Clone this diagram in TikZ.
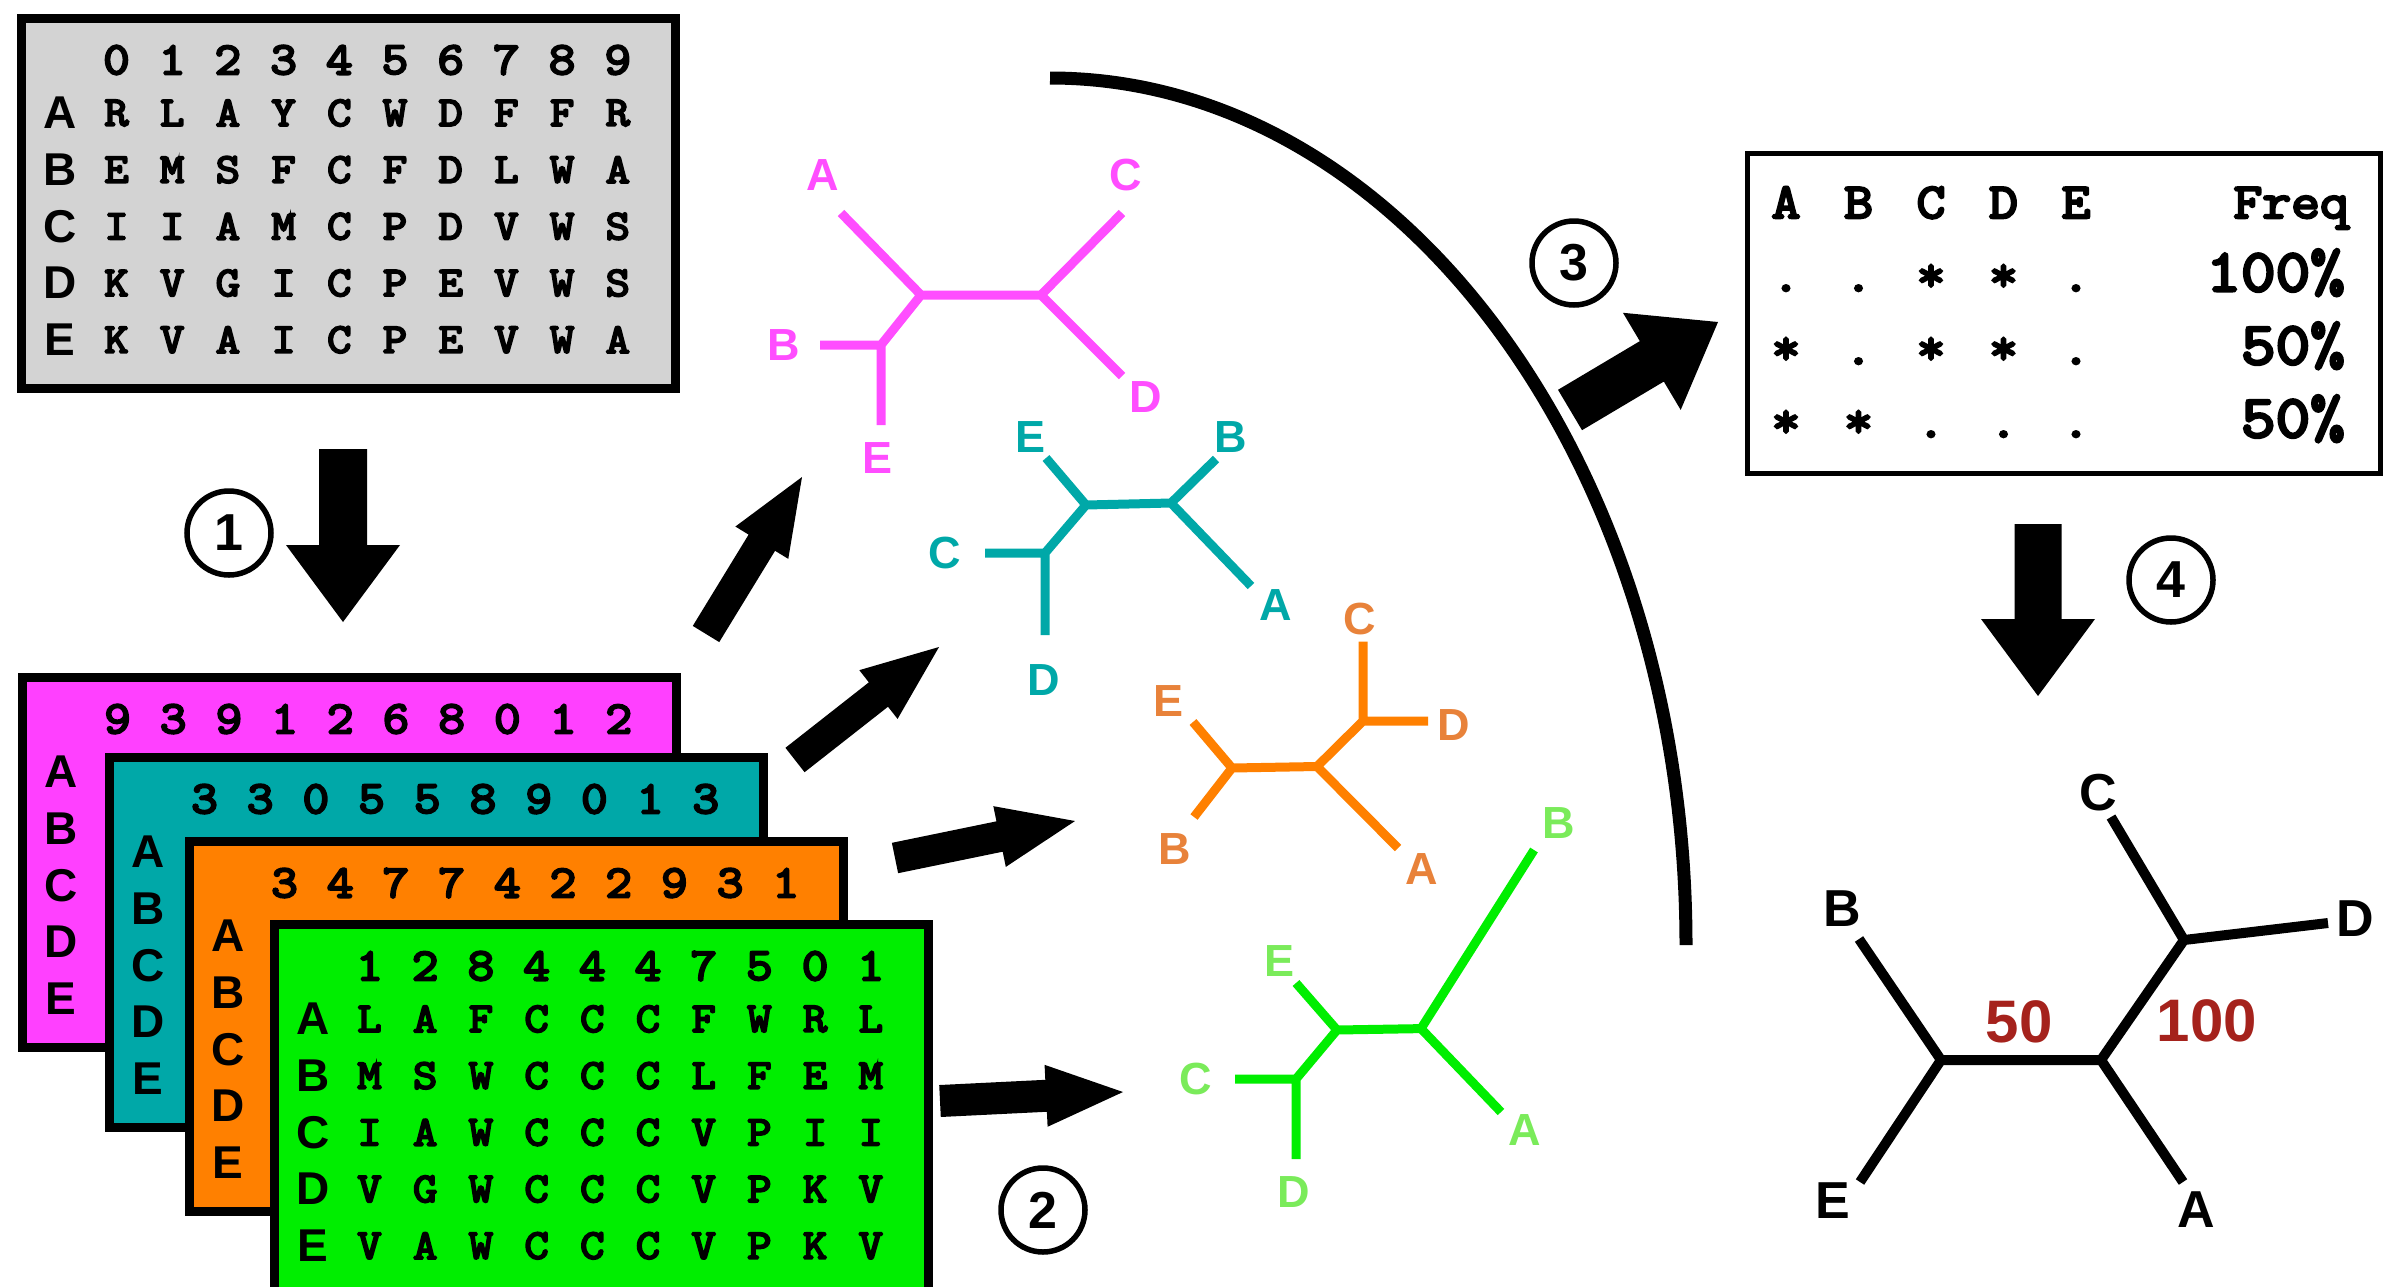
\documentclass[tikz,border=0pt]{standalone}
\usepackage{fontspec}
\newfontfamily\labelsans{Liberation Sans}
\newfontfamily\seqmono{Latin Modern Mono}[FakeBold=5, FakeStretch=1.12]

\definecolor{seqgray}{RGB}{211,211,211}
\definecolor{magbox}{RGB}{255,64,255}
\definecolor{magtree}{RGB}{255,77,255}
\definecolor{tealbox}{RGB}{0,168,168}
\definecolor{orangebox}{RGB}{255,128,0}
\definecolor{orangelab}{RGB}{232,130,58}
\definecolor{greenbox}{RGB}{0,238,0}
\definecolor{greenlab}{RGB}{122,235,90}
\definecolor{supportred}{RGB}{165,34,28}

\tikzset{
  boxframe/.style={draw=black, line width=9, rectangle, inner sep=0, anchor=north west},
  seqchar/.style={inner sep=0, font=\seqmono\fontsize{42}{42}\selectfont},
  seqdigit/.style={inner sep=0, font=\seqmono\fontsize{46}{46}\selectfont},
  rowlab/.style={inner sep=0, font=\labelsans\bfseries\fontsize{46}{46}\selectfont},
  freqchar/.style={inner sep=0, anchor=base, font=\seqmono\fontsize{50}{50}\selectfont},
  freqval/.style={inner sep=0, anchor=base east, font=\seqmono\fontsize{60}{60}\selectfont},
  treeline/.style={line width=9, line cap=butt, line join=miter},
  treelab/.style={inner sep=0, font=\labelsans\bfseries\fontsize{45}{45}\selectfont},
  conslab/.style={inner sep=0, font=\labelsans\bfseries\fontsize{52}{52}\selectfont},
  supportlab/.style={inner sep=0, text=supportred, font=\labelsans\bfseries\fontsize{60}{60}\selectfont},
  stepnum/.style={circle, draw=black, line width=5.5, minimum size=84, inner sep=0,
    font=\labelsans\bfseries\fontsize{52}{52}\selectfont},
}

% alignment box: frame, column numbers and taxon labels
% #1 name, #2 left, #3 top, #4 fill, #5 frame height, #6 column numbers
\newcommand\seqbox[6]{%
  \node[boxframe, fill=#4, minimum width=654, minimum height=#5] (#1) at (#2+4.5,#3+4.5) {};
  \foreach \d [count=\i from 0] in {#6}
    \node[seqdigit] (#1-h\i) at ({#2+104.5+55.7*\i}, {#3+51}) {\d};
  \foreach \r [count=\j from 0] in {A,B,C,D,E}
    \node[rowlab] (#1-\r) at ({#2+48}, {#3+104+56.7*\j}) {\r};
}
% residues of an alignment box, one list per taxon
\newcommand\seqrows[4]{%
  \foreach \row [count=\j from 0] in {#4} {
    \foreach \c [count=\i from 0] in \row
      \node[seqchar] (#1-\j-\i) at ({#2+104.5+55.7*\i}, {#3+104+56.7*\j}) {\c};
  }
}
% block arrow: #1 name, tail (#2,#3), tip (#4,#5), shaft width #6, head width #7, head length #8
\newcommand\fatarrow[8]{%
  \coordinate (#1-tail) at (#2,#3);
  \coordinate (#1-tip) at (#4,#5);
  \pgfmathsetmacro\arrowang{atan2(#3-#5,#4-#2)}%
  \pgfmathsetmacro\arrowlen{veclen(#4-#2,#5-#3)}%
  \fill[shift={(#1-tail)}, rotate=\arrowang]
    (0,-#6/2) -- (\arrowlen-#8,-#6/2) -- (\arrowlen-#8,-#7/2) -- (\arrowlen,0)
    -- (\arrowlen-#8,#7/2) -- (\arrowlen-#8,#6/2) -- (0,#6/2) -- cycle;
}

\begin{document}
\begin{tikzpicture}[x=1pt, y=-1pt]
\useasboundingbox (0,0) rectangle (2393,1286);
\clip (0,0) rectangle (2393,1286);
\fill[white] (0,0) rectangle (2393,1286);

% original alignment
\seqbox{orig}{12}{9}{seqgray}{370}{0,1,2,3,4,5,6,7,8,9}
\seqrows{orig}{12}{9}{{R,L,A,Y,C,W,D,F,F,R},{E,M,S,F,C,F,D,L,W,A},{I,I,A,M,C,P,D,V,W,S},{K,V,G,I,C,P,E,V,W,S},{K,V,A,I,C,P,E,V,W,A}}

% step 1
\fatarrow{stepone}{343}{449}{343}{622}{48}{114}{77}
\node[stepnum] (n1) at (229,533) {1};

% bootstrap replicates
\seqbox{rep1}{13}{668}{magbox}{370}{9,3,9,1,2,6,8,0,1,2}
\seqbox{rep2}{100}{748}{tealbox}{370}{3,3,0,5,5,8,9,0,1,3}
\seqbox{rep3}{180}{832}{orangebox}{370}{3,4,7,7,4,2,2,9,3,1}
\seqbox{rep4}{265}{915}{greenbox}{450}{1,2,8,4,4,4,7,5,0,1}
\seqrows{rep4}{265}{915}{{L,A,F,C,C,C,F,W,R,L},{M,S,W,C,C,C,L,F,E,M},{I,A,W,C,C,C,V,P,I,I},{V,G,W,C,C,C,V,P,K,V},{V,A,W,C,C,C,V,P,K,V}}

% step 2: one tree per replicate
\fatarrow{toA}{706}{634}{802}{477}{31}{62}{77}
\fatarrow{toB}{795}{760}{939}{647}{31}{62}{77}
\fatarrow{toC}{895}{858}{1075}{821}{31}{62}{77}
\fatarrow{toD}{940}{1101}{1123}{1092}{32}{62}{77}
\node[stepnum] (n2) at (1043,1210) {2};

% magenta tree
\coordinate (m-L) at (921,295);  \coordinate (m-R) at (1041,295);
\coordinate (m-A) at (841,213);  \coordinate (m-C) at (1122,213);
\coordinate (m-D) at (1122,376); \coordinate (m-BE) at (881,345);
\coordinate (m-B) at (820,345);  \coordinate (m-E) at (881,425);
\draw[treeline, magtree] (m-A) -- (m-L) -- (m-R) -- (m-C) (m-R) -- (m-D)
  (m-L) -- (m-BE) -- (m-E) (m-B) -- (m-BE);
\begin{scope}[every node/.style={treelab, text=magtree}]
  \node (m-lA) at (823,175) {A};  \node (m-lC) at (1126,175) {C};
  \node (m-lB) at (784,345) {B};  \node (m-lD) at (1146,397) {D};
  \node (m-lE) at (877,458) {E};
\end{scope}

% teal tree
\coordinate (t-L) at (1086,505);  \coordinate (t-R) at (1171,503);
\coordinate (t-E) at (1046,458);  \coordinate (t-B) at (1216,459);
\coordinate (t-A) at (1251,586);  \coordinate (t-CD) at (1045,553);
\coordinate (t-C) at (985,553);   \coordinate (t-D) at (1045,635);
\draw[treeline, tealbox] (t-E) -- (t-L) -- (t-R) -- (t-B) (t-R) -- (t-A)
  (t-L) -- (t-CD) -- (t-D) (t-C) -- (t-CD);
\begin{scope}[every node/.style={treelab, text=tealbox}]
  \node (t-lE) at (1030,437) {E};  \node (t-lB) at (1231,437) {B};
  \node (t-lA) at (1276,605) {A};  \node (t-lC) at (945,553) {C};
  \node (t-lD) at (1044,680) {D};
\end{scope}

% orange tree
\coordinate (o-L) at (1232,768);  \coordinate (o-R) at (1317,766.5);
\coordinate (o-E) at (1193,722);  \coordinate (o-B) at (1194,817);
\coordinate (o-A) at (1398,848);  \coordinate (o-CD) at (1363,721);
\coordinate (o-C) at (1363,641.5); \coordinate (o-D) at (1428,721);
\draw[treeline, orangebox] (o-E) -- (o-L) -- (o-R) -- (o-A) (o-L) -- (o-B)
  (o-R) -- (o-CD) -- (o-C) (o-CD) -- (o-D);
\begin{scope}[every node/.style={treelab, text=orangelab}]
  \node (o-lC) at (1360,619) {C};  \node (o-lE) at (1168,701) {E};
  \node (o-lD) at (1454,725) {D};  \node (o-lB) at (1175,849) {B};
  \node (o-lA) at (1422,869) {A};
\end{scope}

% green tree
\coordinate (g-L) at (1337,1030); \coordinate (g-R) at (1421,1028.6);
\coordinate (g-E) at (1296,983);  \coordinate (g-B) at (1534,850);
\coordinate (g-A) at (1501,1112); \coordinate (g-CD) at (1296,1079);
\coordinate (g-C) at (1235,1079); \coordinate (g-D) at (1296,1159);
\draw[treeline, greenbox] (g-E) -- (g-L) -- (g-R) -- (g-B) (g-R) -- (g-A)
  (g-L) -- (g-CD) -- (g-D) (g-C) -- (g-CD);
\begin{scope}[every node/.style={treelab, text=greenlab}]
  \node (g-lE) at (1279,961) {E};  \node (g-lB) at (1559,823) {B};
  \node (g-lA) at (1525,1130) {A}; \node (g-lC) at (1196,1079) {C};
  \node (g-lD) at (1294,1192) {D};
\end{scope}

% bracket gathering the trees
\coordinate (arc-top) at (1050,78);
\coordinate (arc-end) at (1686,945);
\draw[line width=13] (arc-top) .. controls (1401,78) and (1686,466) .. (arc-end);

% step 3: split frequencies
\fatarrow{stepthree}{1570}{410}{1718}{322}{47}{113}{77}
\node[stepnum] (n3) at (1574,263) {3};

\node[draw=black, line width=5, fill=white, rectangle, inner sep=0, anchor=north west,
  minimum width=633.5, minimum height=320] (freq) at (1744.5,150.5) {};
\foreach \h [count=\i from 0] in {A,B,C,D,E}
  \node[freqchar] (fh-\i) at ({1786+72.5*\i},218) {\h};
\node[freqchar, anchor=base east] (fh-freq) at (2349,218) {Freq};
\foreach \row/\val [count=\j from 1] in {{.,.,*,*,.}/100,{*,.,*,*,.}/50,{*,*,.,.,.}/50} {
  \foreach \s [count=\i from 0] in \row
    \node[freqchar] (f-\j-\i) at ({1786+72.5*\i},{218+73*\j}) {\s};
  \node[freqval] (fv-\j) at (2345,{218+73*\j}) {\val\%};
}

% step 4: consensus tree
\fatarrow{stepfour}{2038}{524}{2038}{696}{47}{114}{77}
\node[stepnum] (n4) at (2171,580) {4};

\coordinate (c-L) at (1941,1060); \coordinate (c-R) at (2101,1060);
\coordinate (c-B) at (1859,939);  \coordinate (c-E) at (1860,1182);
\coordinate (c-A) at (2183,1182); \coordinate (c-CD) at (2184,940);
\coordinate (c-C) at (2111,817);  \coordinate (c-D) at (2328,923);
\draw[treeline, line width=10, black] (c-B) -- (c-L) -- (c-E) (c-L) -- (c-R) -- (c-A)
  (c-R) -- (c-CD) -- (c-C) (c-CD) -- (c-D);
\begin{scope}[every node/.style={conslab}]
  \node (c-lB) at (1842,909) {B};  \node (c-lC) at (2098,793) {C};
  \node (c-lD) at (2355,919) {D};  \node (c-lE) at (1833,1201) {E};
  \node (c-lA) at (2196,1210) {A};
\end{scope}
\node[supportlab] (c-s50) at (2019,1022) {50};
\node[supportlab] (c-s100) at (2207,1021) {100};
\end{tikzpicture}
\end{document}
